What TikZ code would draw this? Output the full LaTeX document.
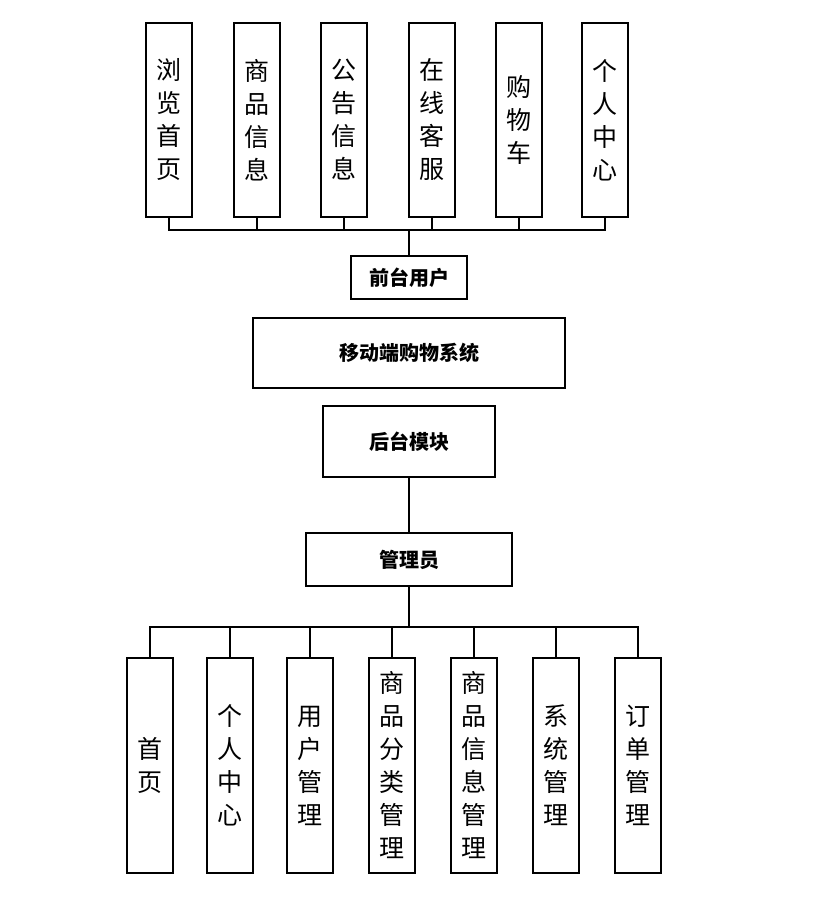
\documentclass[tikz,border=0pt]{standalone}
\usepackage{fontspec}
\newfontfamily\cjk{Noto Sans CJK SC}
\tikzset{
  colbox/.style={rectangle,draw,line width=1.3pt,minimum width=46pt,inner sep=0pt,align=center,font=\cjk\fontsize{25}{33}\selectfont},
  midbox/.style={rectangle,draw,line width=1.3pt,inner sep=0pt,font=\cjk\bfseries\fontsize{20}{22}\selectfont},
  link/.style={line width=1.3pt}
}
\begin{document}
\begin{tikzpicture}[x=1pt,y=-1pt]
    \useasboundingbox (0,0) rectangle (825,900);
    % Front-end columns
    \foreach \x/\t [count=\i] in {169/浏\\览\\首\\页, 257/商\\品\\信\\息, 344/公\\告\\信\\息, 432/在\\线\\客\\服, 519/购\\物\\车, 605/个\\人\\中\\心}
        \node[colbox,minimum height=194pt] (top\i) at (\x,120) {\t};
    \node[midbox,minimum width=116pt,minimum height=43pt] (front) at (409,277.5) {前台用户};
    \coordinate (topbus) at (409,230);
    \foreach \i in {1,...,6}
        \draw[link] (top\i.south) |- (topbus);
    \draw[link] (front.north) -- (topbus);
    % System and back-end
    \node[midbox,minimum width=312pt,minimum height=70pt] (sys) at (409,353) {移动端购物系统};
    \node[midbox,minimum width=172pt,minimum height=71pt] (back) at (409,441.5) {后台模块};
    \node[midbox,minimum width=206pt,minimum height=53pt] (admin) at (409,559.5) {管理员};
    \draw[link] (back.south) -- (admin.north);
    % Admin columns
    \coordinate (botbus) at (409,627);
    \foreach \x/\t [count=\i] in {150/首\\页, 230/个\\人\\中\\心, 310/用\\户\\管\\理, 392/商\\品\\分\\类\\管\\理, 474/商\\品\\信\\息\\管\\理, 556/系\\统\\管\\理, 638/订\\单\\管\\理}
        \node[colbox,minimum height=215pt] (bot\i) at (\x,765.5) {\t};
    \draw[link] (admin.south) -- (botbus);
    \foreach \i in {1,...,7}
        \draw[link] (bot\i.north) |- (botbus);
\end{tikzpicture}
\end{document}
